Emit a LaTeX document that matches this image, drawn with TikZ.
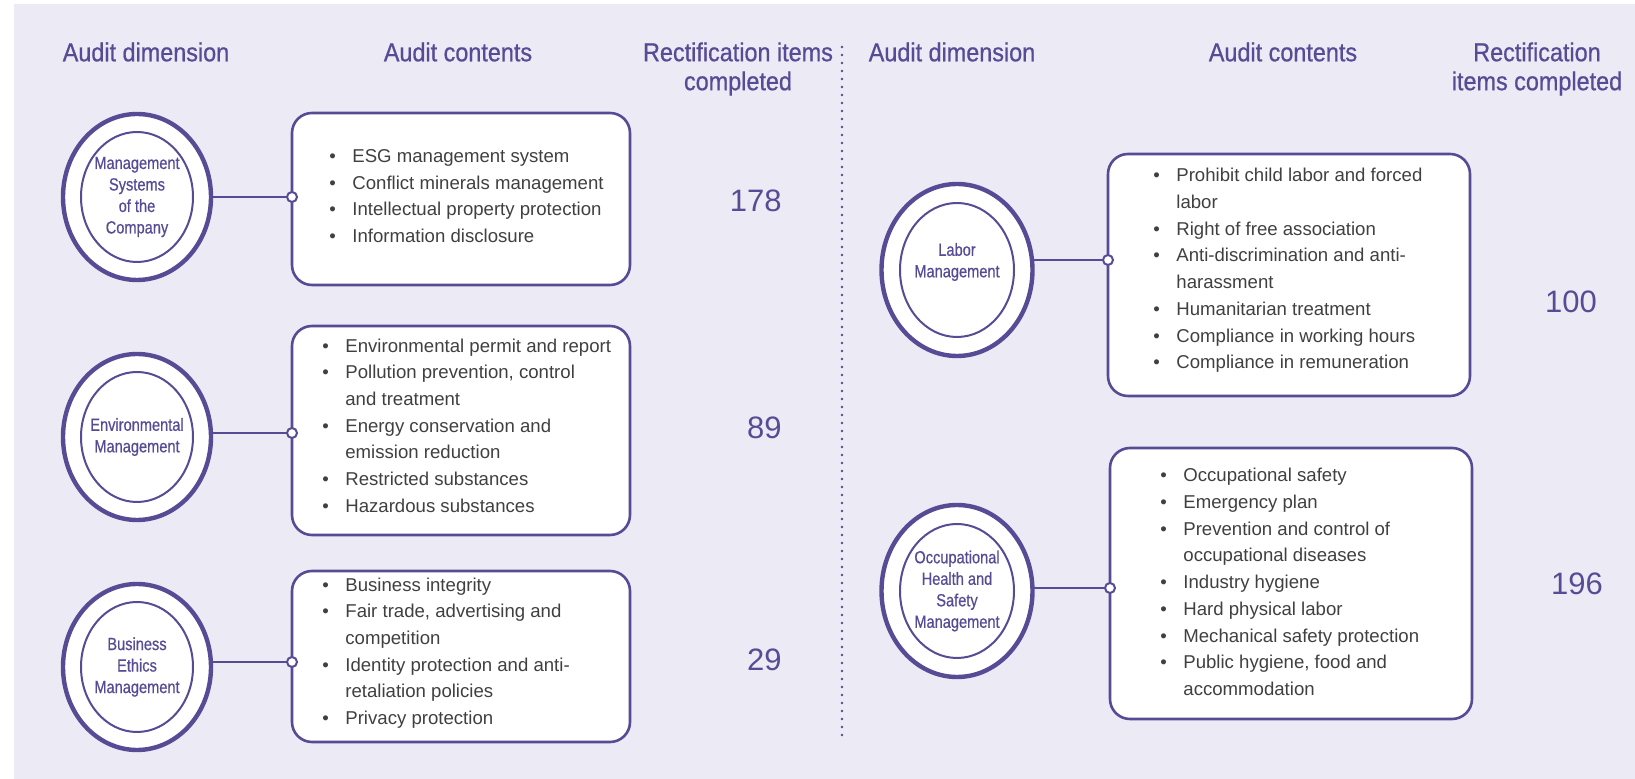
\documentclass[tikz,border=0pt]{standalone}
\usepackage{fontspec}
\setmainfont{Liberation Sans}
\newfontfamily\condfont[FakeStretch=0.9,FakeBold=0.7]{Liberation Sans}
\newfontfamily\labfont[FakeStretch=0.83,FakeBold=0.6]{Liberation Sans}
\usetikzlibrary{shapes.geometric}
\definecolor{pur}{HTML}{584B96}
\definecolor{bgc}{HTML}{ECEAF4}
\definecolor{txt}{HTML}{404040}
\newcommand\bitem[1]{\makebox[11.5pt][l]{\textbullet}#1}
\newcommand\bcont[1]{\hspace*{11.5pt}#1}
\begin{document}
\begin{tikzpicture}[x=0.5pt,y=-0.5pt,
  hdr/.style={font=\condfont\fontsize{13}{14.5}\selectfont, text=pur, align=center, inner sep=0},
  lab/.style={font=\labfont\fontsize{8.8}{10.75}\selectfont, text=pur, align=center, inner sep=0},
  outerc/.style={ellipse, draw=pur, line width=2.2pt, fill=white, inner sep=0, outer sep=0},
  innerc/.style={ellipse, draw=pur, line width=1pt, inner sep=0, outer sep=0},
  cbox/.style={draw=pur, line width=1.3pt, fill=white, rounded corners=10pt, inner sep=0, outer sep=0},
  body/.style={font=\fontsize{9.3}{13.35}\selectfont, text=txt, align=left, inner sep=0, anchor=west},
  num/.style={font=\fontsize{15.5}{17}\selectfont, text=pur, inner sep=0},
  link/.style={draw=pur, line width=1.3pt},
  dotc/.style={circle, draw=pur, fill=white, line width=1pt, minimum size=5pt, inner sep=0},
]
\useasboundingbox (0,0) rectangle (1635,779);
\fill[white] (0,0) rectangle (1635,779);
\fill[bgc] (14,4) rectangle (1635,779);

% headers
\node[hdr] (h1) at (146,52) {Audit dimension};
\node[hdr] (h2) at (458,52) {Audit contents};
\node[hdr] (h3) at (738,69) {Rectification items\\completed};
\node[hdr] (h4) at (952,52) {Audit dimension};
\node[hdr] (h5) at (1283,52) {Audit contents};
\node[hdr] (h6) at (1537,69) {Rectification\\items completed};

% divider
\coordinate (dt) at (842,47);
\coordinate (db) at (842,738);
\draw[pur, line width=1.3pt, line cap=round, dash pattern=on 0pt off 4pt] (dt) -- (db);

% boxes
\node[cbox, minimum width=169pt, minimum height=86pt] (b1) at (461,199) {};
\node[cbox, minimum width=169pt, minimum height=104.5pt] (b2) at (461,430.5) {};
\node[cbox, minimum width=169pt, minimum height=85.5pt] (b3) at (461,656.5) {};
\node[cbox, minimum width=181pt, minimum height=121pt] (b4) at (1289,275) {};
\node[cbox, minimum width=181pt, minimum height=135.5pt] (b5) at (1291,583.5) {};

% circles
\node[outerc, minimum width=74pt, minimum height=83pt] (c1) at (137,197) {};
\node[innerc, minimum width=56pt, minimum height=65pt] (i1) at (c1) {};
\node[lab] (l1) at (c1) {Management\\Systems\\of the\\Company};
\node[outerc, minimum width=74pt, minimum height=83pt] (c2) at (137,437) {};
\node[innerc, minimum width=56pt, minimum height=65pt] (i2) at (c2) {};
\node[lab] (l2) at (c2) {Environmental\\Management};
\node[outerc, minimum width=74pt, minimum height=83pt] (c3) at (137,667) {};
\node[innerc, minimum width=56pt, minimum height=65pt] (i3) at (c3) {};
\node[lab] (l3) at (c3) {Business\\Ethics\\Management};
\node[outerc, minimum width=75.5pt, minimum height=86pt] (c4) at (957,270) {};
\node[innerc, minimum width=57pt, minimum height=67pt] (i4) at (c4) {};
\node[lab] (l4) at (957,262) {Labor\\Management};
\node[outerc, minimum width=75.5pt, minimum height=86pt] (c5) at (957,591) {};
\node[innerc, minimum width=57pt, minimum height=67pt] (i5) at (c5) {};
\node[lab] (l5) at (c5) {Occupational\\Health and\\Safety\\Management};

% connector dots
\node[dotc] (d1) at (292,197) {};
\node[dotc] (d2) at (292,433) {};
\node[dotc] (d3) at (292,662) {};
\node[dotc] (d4) at (1108,260) {};
\node[dotc] (d5) at (1110,588) {};
\draw[link] (d1.west) -- (d1.west -| c1.east);
\draw[link] (d2.west) -- (d2.west -| c2.east);
\draw[link] (d3.west) -- (d3.west -| c3.east);
\draw[link] (d4.west) -- (d4.west -| c4.east);
\draw[link] (d5.west) -- (d5.west -| c5.east);

% box texts
\node[body] (t1) at (329,196) {\bitem{ESG management system}\\\bitem{Conflict minerals management}\\\bitem{Intellectual property protection}\\\bitem{Information disclosure}};
\node[body] (t2) at (322,425.5) {\bitem{Environmental permit and report}\\\bitem{Pollution prevention, control}\\\bcont{and treatment}\\\bitem{Energy conservation and}\\\bcont{emission reduction}\\\bitem{Restricted substances}\\\bitem{Hazardous substances}};
\node[body] (t3) at (322,653) {\bitem{Business integrity}\\\bitem{Fair trade, advertising and}\\\bcont{competition}\\\bitem{Identity protection and anti-}\\\bcont{retaliation policies}\\\bitem{Privacy protection}};
\node[body] (t4) at (1153,270.5) {\bitem{Prohibit child labor and forced}\\\bcont{labor}\\\bitem{Right of free association}\\\bitem{Anti-discrimination and anti-}\\\bcont{harassment}\\\bitem{Humanitarian treatment}\\\bitem{Compliance in working hours}\\\bitem{Compliance in remuneration}};
\node[body] (t5) at (1160,582) {\bitem{Occupational safety}\\\bitem{Emergency plan}\\\bitem{Prevention and control of}\\\bcont{occupational diseases}\\\bitem{Industry hygiene}\\\bitem{Hard physical labor}\\\bitem{Mechanical safety protection}\\\bitem{Public hygiene, food and}\\\bcont{accommodation}};

% numbers
\node[num, anchor=east] (n1) at (782,201) {178};
\node[num, anchor=east] (n2) at (782,428) {89};
\node[num, anchor=east] (n3) at (782,660) {29};
\node[num] (n4) at (1571,302) {100};
\node[num] (n5) at (1577,584) {196};
\end{tikzpicture}
\end{document}
